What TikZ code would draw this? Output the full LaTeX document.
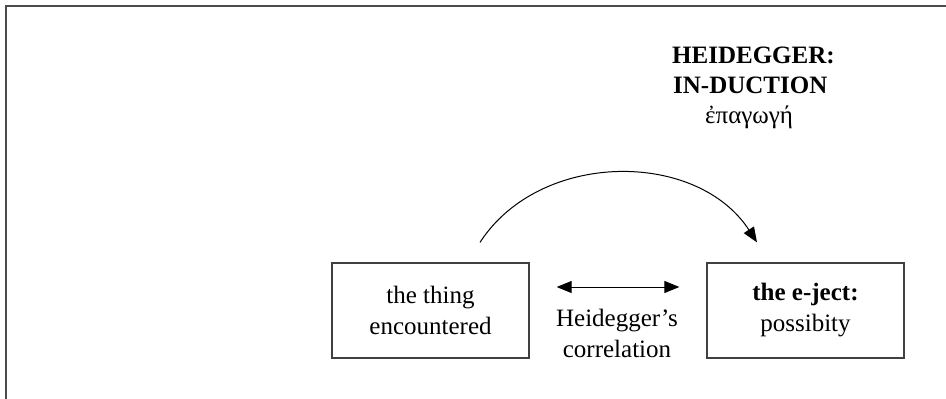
\documentclass[tikz,border=0pt]{standalone}
\usepackage{fontspec}
\setmainfont{Liberation Serif}
\usetikzlibrary{arrows.meta}
\tikzset{
    caixa/.style = {
        draw            = black!75,
        line width      = 1.3pt,
        minimum width   = 197pt,
        minimum height  = 95pt,
        align           = center,
        font            = \fontsize{25}{31}\selectfont,
    },
    texto/.style = {
        align           = center,
        inner sep       = 0pt,
        font            = \fontsize{25}{31}\selectfont,
    },
    seta/.style = {
        line width      = 1pt,
        -{Triangle[length=15pt,width=12pt]},
    },
    setadupla/.style = {
        line width      = 1pt,
        {Triangle[length=15pt,width=12pt]}-{Triangle[length=15pt,width=12pt]},
    }
}

\begin{document}
\begin{tikzpicture}[x=1pt,y=-1pt]
  \useasboundingbox (0,0) rectangle (946,399);
  % moldura
  \draw[black!70,line width=2pt] (6,399) -- (6,6) -- (946,6);

  % titulo
  \node[texto,anchor=base west] (Heidegger) at (672,63) {\textbf{HEIDEGGER:}};
  \node[texto,anchor=base west] (Induction) at (673,93) {\textbf{IN-DUCTION}};
  \node[texto,anchor=base west] (Epagoge) at (705,123) {ἐπαγωγή};

  % caixas
  \node[caixa] (Thing) at (430.5,310.5) {the thing\\encountered};
  \node[caixa] (Eject) at (805.5,310.5) {\textbf{the e-ject:}\\possibity};

  % correlacao
  \draw[setadupla] ([xshift=27pt,yshift=23.5pt]Thing.east) to ([xshift=-27pt,yshift=23.5pt]Eject.west);
  \node[texto] (Correlation) at (617,333) {Heidegger’s\\correlation};

  % in-ducao
  \coordinate (Inicio) at ([xshift=49.5pt,yshift=20pt]Thing.north);
  \coordinate (Fim) at ([xshift=-48.5pt,yshift=20pt]Eject.north);
  \draw[seta] (Inicio) to[out=57,in=123,looseness=1.02] (Fim);

\end{tikzpicture}
\end{document}
